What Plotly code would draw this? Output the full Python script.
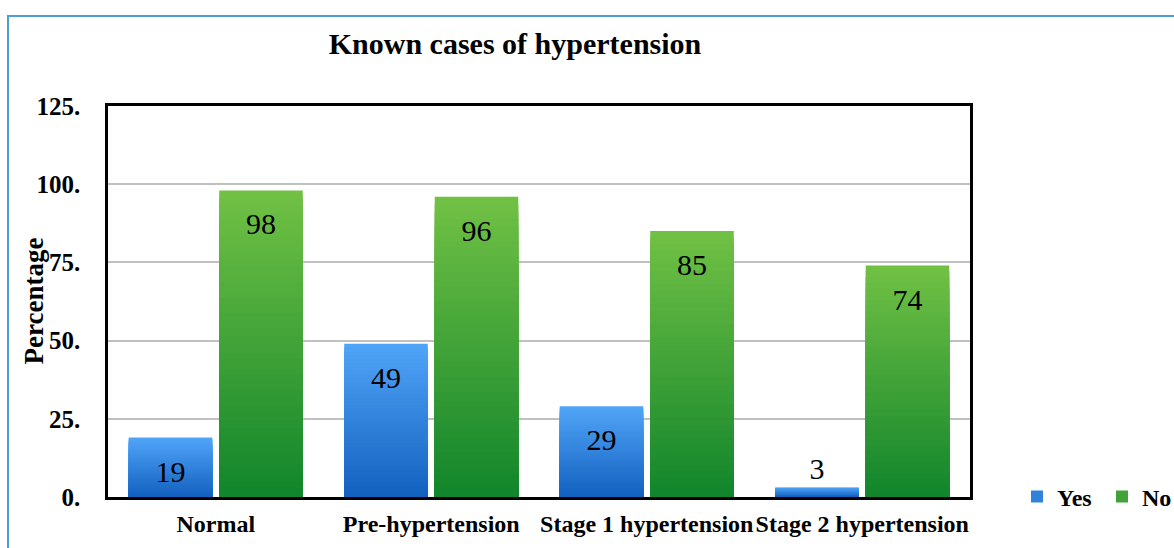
import plotly.graph_objects as go

# Known cases of hypertension, percentage answering Yes / No per BP category
categories = ["Normal", "Pre-hypertension", "Stage 1 hypertension", "Stage 2 hypertension"]
yes_pct = [19, 49, 29, 3]
no_pct = [98, 96, 85, 74]
y_ticks = [0, 25, 50, 75, 100, 125]
y_tick_text = ["0.", "25.", "50.", "75.", "100.", "125."]

SERIF = "Liberation Serif, Times New Roman, serif"
BLUE_TOP, BLUE_BOTTOM = (80, 164, 247), (20, 98, 192)
GREEN_TOP, GREEN_BOTTOM = (112, 192, 68), (18, 134, 44)
STEPS = 40  # colour bands used to build the vertical gradient of each bar
# a tiny blank first line pushes inside-end labels a little below the bar top
INSIDE_PAD = "<span style='font-size:2px'>\u00a0</span><br>"


def mix(c0, c1, t):
    r, g, b = (round(a + (b_ - a) * t) for a, b_ in zip(c0, c1))
    return f"rgb({r},{g},{b})"


def gradient_series(name, values, top, bottom, group, label_pos, rank):
    """Overlaid bars of decreasing height give a light-top / dark-bottom fill."""
    traces = []
    for k in range(STEPS):
        frac = (STEPS - k) / STEPS
        traces.append(go.Bar(
            x=categories,
            y=[v * frac for v in values],
            offsetgroup=group,
            marker=dict(color=mix(top, bottom, k / (STEPS - 1)), line=dict(width=0)),
            name=name,
            showlegend=(k == STEPS // 2),
            legendrank=rank,
            hoverinfo="skip",
        ))
    labels = [(INSIDE_PAD if pos == "inside" else "") + str(v)
              for v, pos in zip(values, label_pos)]
    # transparent full-height bar carrying the value labels
    traces.append(go.Bar(
        x=categories,
        y=values,
        offsetgroup=group,
        marker=dict(color="rgba(0,0,0,0)", line=dict(width=0)),
        text=labels,
        textposition=label_pos,
        insidetextanchor="end",
        textangle=0,
        textfont=dict(family=SERIF, size=30, color="black"),
        cliponaxis=False,
        showlegend=False,
        name=name,
        hovertemplate="%{x}<br>" + name + ": %{y}%<extra></extra>",
    ))
    return traces


fig = go.Figure()
for tr in gradient_series("Yes", yes_pct, BLUE_TOP, BLUE_BOTTOM, "yes",
                          ["inside", "inside", "inside", "outside"], 1):
    fig.add_trace(tr)
for tr in gradient_series("No", no_pct, GREEN_TOP, GREEN_BOTTOM, "no",
                          ["inside"] * 4, 2):
    fig.add_trace(tr)

fig.update_layout(
    width=1174,
    height=548,
    margin=dict(l=108, r=204, t=106, b=51, autoexpand=False),
    paper_bgcolor="white",
    plot_bgcolor="white",
    barmode="group",
    bargap=0.16,
    bargroupgap=0.077,
    font=dict(family=SERIF, color="black"),
    title=dict(
        text="Known cases of hypertension",
        font=dict(family=SERIF, size=30, color="black", weight="bold"),
        xref="container", x=515 / 1174, xanchor="center",
        yref="container", y=1 - 43 / 548, yanchor="middle",
    ),
    legend=dict(
        orientation="h",
        x=(1017 - 108) / 862, xanchor="left",
        y=0.0, yanchor="middle",
        font=dict(family=SERIF, size=24, color="black", weight="bold"),
        bgcolor="rgba(0,0,0,0)",
        entrywidth=40, entrywidthmode="pixels",
        traceorder="normal",
    ),
    showlegend=True,
    annotations=[dict(
        text="Percentage",
        xref="paper", yref="paper",
        x=(33 - 108) / 862, y=0.5,
        xanchor="center", yanchor="middle",
        textangle=-90, showarrow=False,
        font=dict(family=SERIF, size=27, color="black", weight="bold"),
    )],
    shapes=[dict(
        type="rect", xref="paper", yref="paper",
        x0=(8 - 108) / 862, x1=2.0,
        y0=-1.0, y1=(497 - 16) / 391,
        line=dict(color="#4d9fd6", width=2),
        fillcolor="rgba(0,0,0,0)",
        layer="below",
    )],
)

fig.update_xaxes(
    type="category",
    automargin=False,
    tickangle=0,
    showline=True, linecolor="black", linewidth=2.5, mirror=True,
    showgrid=False, ticks="",
    tickfont=dict(family=SERIF, size=24, color="black", weight="bold"),
    ticklabelstandoff=3,
)
fig.update_yaxes(
    automargin=False,
    range=[0, 125],
    tickvals=y_ticks, ticktext=y_tick_text,
    showline=True, linecolor="black", linewidth=2.5, mirror=True,
    showgrid=True, gridcolor="#c0c0c0", gridwidth=2,
    zeroline=False, ticks="",
    tickfont=dict(family=SERIF, size=25, color="black", weight="bold"),
    ticklabelstandoff=20,
)

fig.write_html("out.html")
